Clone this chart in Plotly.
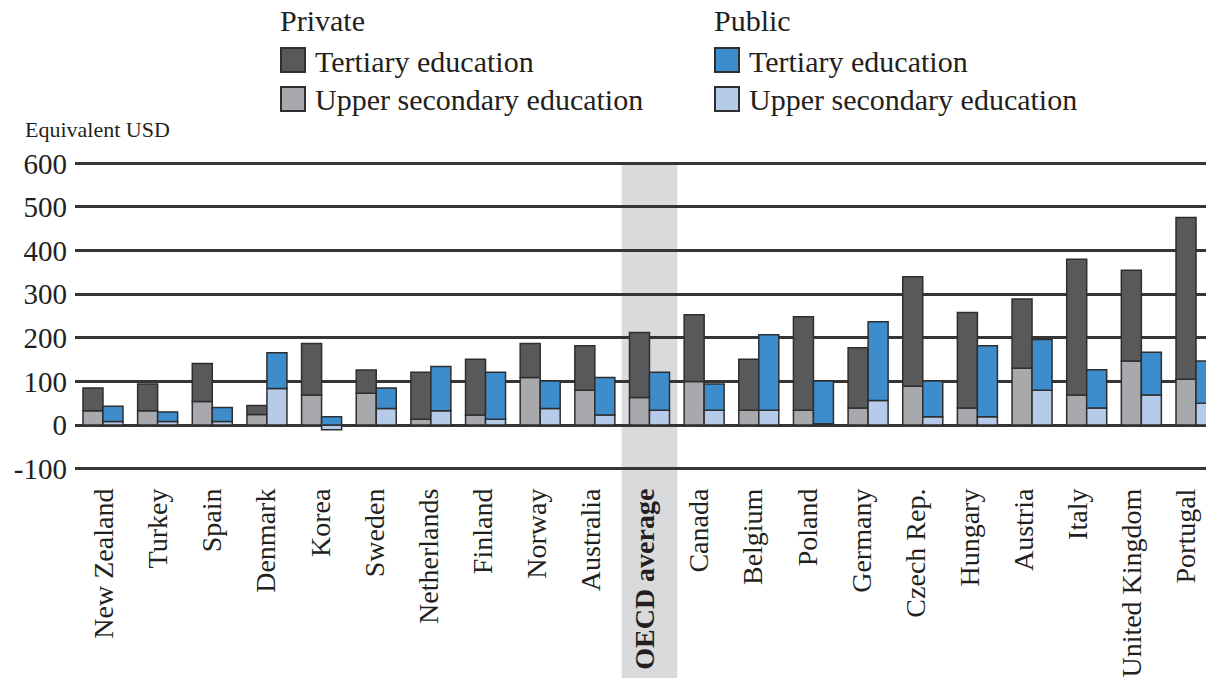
import plotly.graph_objects as go

countries = ["New Zealand", "Turkey", "Spain", "Denmark", "Korea", "Sweden", "Netherlands",
             "Finland", "Norway", "Australia", "OECD average", "Canada", "Belgium", "Poland",
             "Germany", "Czech Rep.", "Hungary", "Austria", "Italy", "United Kingdom", "Portugal"]
tick_labels = [("<b>%s</b>" % c) if c == "OECD average" else c for c in countries]

# segment values (equivalent USD)
private_upper = [33, 33, 54, 24, 69, 73, 13, 23, 109, 80, 63, 100, 34, 34, 39, 89, 39, 130, 69, 147, 105]
private_tert = [52, 61, 87, 21, 118, 53, 108, 128, 78, 102, 149, 153, 117, 214, 138, 251, 219, 159, 311, 208, 371]
public_upper = [8, 8, 8, 84, -11, 38, 33, 13, 38, 23, 34, 34, 34, 3, 56, 19, 19, 80, 39, 69, 50]
public_tert = [35, 22, 32, 82, 19, 47, 101, 108, 63, 86, 87, 60, 173, 98, 181, 82, 163, 116, 88, 98, 97]

y_ticks = [-100, 0, 100, 200, 300, 400, 500, 600]
y_tick_text = ["-100", "0", "100", "200", "300", "400", "500", "600"]

C_PRIV_T = "#58595b"
C_PRIV_U = "#a7a9ac"
C_PUB_T = "#3d8dcd"
C_PUB_U = "#b5cbe9"
EDGE = "#2e2e2e"
GRID = "#353535"
TXT = "#231f20"
SERIF = "Liberation Serif, Times New Roman, serif"

W, H = 1206, 678
ML, MR, MT, MB = 75, 0, 159, 205
PW, PH = W - ML - MR, H - MT - MB
Y_RANGE = [-110, 610]


def px(x):
    return (x - ML) / PW


def py(y):
    return (H - MB - y) / PH


idx = list(range(len(countries)))
n = len(countries)
# label positions drift slightly left of the bar groups, as in the original layout
tick_pos = [i + (0.02 - 0.2 * i / (n - 1)) for i in idx]

base_priv = [max(0, v) for v in private_upper]
base_pub = [max(0, v) for v in public_upper]

fig = go.Figure()
line = dict(color=EDGE, width=1.5)
fig.add_bar(x=idx, y=private_upper, offsetgroup="priv", marker=dict(color=C_PRIV_U, line=line),
            name="Private – Upper secondary education", hovertext=countries)
fig.add_bar(x=idx, y=private_tert, base=base_priv, offsetgroup="priv", marker=dict(color=C_PRIV_T, line=line),
            name="Private – Tertiary education", hovertext=countries)
fig.add_bar(x=idx, y=public_upper, offsetgroup="pub", marker=dict(color=C_PUB_U, line=line),
            name="Public – Upper secondary education", hovertext=countries)
fig.add_bar(x=idx, y=public_tert, base=base_pub, offsetgroup="pub", marker=dict(color=C_PUB_T, line=line),
            name="Public – Tertiary education", hovertext=countries)

oecd_i = countries.index("OECD average")
fig.add_shape(type="rect", xref="x", yref="paper", x0=oecd_i - 0.51, x1=oecd_i + 0.51,
              y0=py(H), y1=py(163), fillcolor="#d9dadb", line=dict(width=0), layer="below")

# legend drawn manually
legend_cols = [
    (280, "Private", [(C_PRIV_T, "Tertiary education"), (C_PRIV_U, "Upper secondary education")]),
    (714, "Public", [(C_PUB_T, "Tertiary education"), (C_PUB_U, "Upper secondary education")]),
]
for x0, title, items in legend_cols:
    fig.add_annotation(x=px(x0 - 2), y=py(20), xref="paper", yref="paper", text=title, showarrow=False,
                       xanchor="left", yanchor="middle", font=dict(family=SERIF, size=30, color=TXT))
    for k, (col, lab) in enumerate(items):
        cy = 60 + 39 * k
        fig.add_shape(type="rect", xref="paper", yref="paper", x0=px(x0 + 1), x1=px(x0 + 25),
                      y0=py(cy - 12), y1=py(cy + 12), fillcolor=col, line=dict(color=EDGE, width=2))
        fig.add_annotation(x=px(x0 + 33), y=py(cy + 1), xref="paper", yref="paper", text=lab, showarrow=False,
                           xanchor="left", yanchor="middle", font=dict(family=SERIF, size=30, color=TXT))

fig.add_annotation(x=px(23), y=py(129), xref="paper", yref="paper", text="Equivalent USD", showarrow=False,
                   xanchor="left", yanchor="middle", font=dict(family=SERIF, size=22, color=TXT))

fig.update_layout(
    width=W, height=H,
    margin=dict(l=ML, r=MR, t=MT, b=MB, pad=0, autoexpand=False),
    paper_bgcolor="white", plot_bgcolor="rgba(0,0,0,0)",
    barmode="group", bargap=0.268, bargroupgap=0,
    showlegend=False,
    font=dict(family=SERIF, color=TXT),
)
fig.update_xaxes(
    range=[-0.512, 20.183], tickmode="array", tickvals=tick_pos, ticktext=tick_labels,
    tickangle=-90, tickfont=dict(family=SERIF, size=28, color=TXT), showgrid=False, zeroline=False,
    ticks="", showline=False, ticklabelstandoff=9, automargin=False,
)
fig.update_yaxes(
    range=Y_RANGE, tickmode="array", tickvals=y_ticks, ticktext=y_tick_text, showgrid=True,
    gridcolor=GRID, gridwidth=2.5,
    zeroline=True, zerolinecolor=GRID, zerolinewidth=2.5, ticks="", showline=False,
    tickfont=dict(family=SERIF, size=29, color=TXT), ticklabelstandoff=7, automargin=False,
)

fig.write_html("out.html", config={"displayModeBar": False},
               post_script="document.body.style.margin='0';document.body.style.overflow='hidden';")
